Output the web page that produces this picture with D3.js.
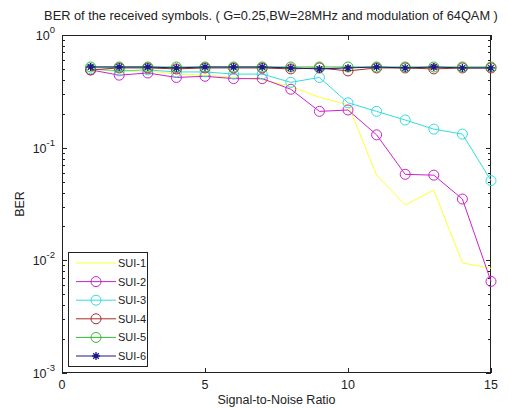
<!DOCTYPE html>
<html><head><meta charset="utf-8">
<script src="https://cdn.jsdelivr.net/npm/d3@7"></script>
<style>body{margin:0;background:#fff}svg{display:block}text{font-family:"Liberation Sans",Arial,sans-serif}</style>
</head><body><svg id="c" width="508" height="408"></svg>
<script>
const snr = [1,2,3,4,5,6,7,8,9,10,11,12,13,14,15];
const sui1 = [0.50,0.47,0.48,0.45,0.44,0.42,0.40,0.35,0.28,0.24,0.057,0.031,0.042,0.0095,0.0085];
const sui2 = [0.49,0.44,0.46,0.42,0.43,0.41,0.41,0.33,0.21,0.216,0.13,0.058,0.057,0.035,0.0065];
const sui3 = [0.50,0.48,0.49,0.47,0.47,0.45,0.45,0.38,0.42,0.25,0.21,0.176,0.146,0.132,0.051];
const sui4 = [0.49,0.51,0.51,0.50,0.51,0.51,0.51,0.50,0.51,0.48,0.51,0.51,0.50,0.51,0.51];
const sui5 = [0.52,0.52,0.52,0.52,0.52,0.52,0.52,0.52,0.52,0.52,0.52,0.52,0.52,0.52,0.52];
const sui6 = [0.52,0.52,0.52,0.51,0.52,0.52,0.52,0.51,0.50,0.51,0.52,0.51,0.52,0.51,0.51];
const seriesNames = ["SUI-1","SUI-2","SUI-3","SUI-4","SUI-5","SUI-6"];
const seriesColors = ["#ffff33","#cc22cc","#33dddd","#aa2a2a","#33bb33","#1a1a88"];
const seriesMarkers = ["none","circle","circle","circle","circle","star"];
const xTicks = [0,5,10,15];
const yTicks = [1e-3,1e-2,1e-1,1];
const yExp = ["-3","-2","-1","0"];
const title = "BER of the received symbols. ( G=0.25,BW=28MHz and modulation of 64QAM )";
const xLabel = "Signal-to-Noise Ratio";
const yLabel = "BER";

const allSeries = [sui1,sui2,sui3,sui4,sui5,sui6];
const L=62,R=491,T=35,B=373;
const svg = d3.select("#c");
const x = d3.scaleLinear().domain([0,15]).range([L,R]);
const y = d3.scaleLog().domain([1e-3,1]).range([B,T]);

svg.append("rect").attr("x",L).attr("y",T).attr("width",R-L).attr("height",B-T).attr("fill","#fff");

const minor = [];
for (let e=-3;e<0;e++) for (let m=2;m<=9;m++) minor.push(m*Math.pow(10,e));
const axCol="#222";
const g = svg.append("g");
[...yTicks.map(v=>({v,len:5})),...minor.map(v=>({v,len:3}))].forEach(t=>{
  const yy = Math.round(y(t.v))+0.5;
  g.append("line").attr("x1",L).attr("x2",L+t.len).attr("y1",yy).attr("y2",yy).attr("stroke",axCol);
  g.append("line").attr("x1",R).attr("x2",R-t.len).attr("y1",yy).attr("y2",yy).attr("stroke",axCol);
});
xTicks.forEach(v=>{
  const xx = Math.round(x(v))+0.5;
  g.append("line").attr("x1",xx).attr("x2",xx).attr("y1",B).attr("y2",B-5).attr("stroke",axCol);
  g.append("line").attr("x1",xx).attr("x2",xx).attr("y1",T).attr("y2",T+5).attr("stroke",axCol);
  g.append("text").attr("x",x(v)).attr("y",B+16).attr("text-anchor","middle").attr("font-size",12.5).attr("fill","#222").text(v);
});
yTicks.forEach((v,i)=>{
  const t = g.append("text").attr("x",L-7).attr("y",y(v)+5).attr("text-anchor","end").attr("font-size",12.5).attr("fill","#222");
  t.append("tspan").text("10");
  t.append("tspan").attr("dy",-7).attr("font-size",9.5).text(yExp[i]);
});
svg.append("rect").attr("x",L+0.5).attr("y",T+0.5).attr("width",R-L-1).attr("height",B-T-1).attr("fill","none").attr("stroke",axCol);

const line = d3.line().x((d,i)=>x(snr[i])).y(d=>y(d));
const starPath = r => `M${-r},0L${r},0M0,${-r}L0,${r}M${-r*0.7},${-r*0.7}L${r*0.7},${r*0.7}M${-r*0.7},${r*0.7}L${r*0.7},${-r*0.7}`;
function drawMarker(sel, type, col, cx, cy){
  if(type==="circle") sel.append("circle").attr("cx",cx).attr("cy",cy).attr("r",5).attr("fill","none").attr("stroke",col).attr("stroke-width",1);
  else if(type==="star") sel.append("path").attr("d",starPath(4)).attr("transform",`translate(${cx},${cy})`).attr("stroke",col).attr("stroke-width",1.3).attr("fill","none");
}
allSeries.forEach((s,k)=>{
  const gg = svg.append("g");
  gg.append("path").attr("d",line(s)).attr("fill","none").attr("stroke",seriesColors[k]).attr("stroke-width",1);
  s.forEach((v,i)=>drawMarker(gg,seriesMarkers[k],seriesColors[k],x(snr[i]),y(v)));
});

const lg = svg.append("g");
lg.append("rect").attr("x",68.5).attr("y",252.5).attr("width",79).attr("height",114).attr("fill","#fff").attr("stroke",axCol);
seriesNames.forEach((n,k)=>{
  const yy = 263 + k*18.6;
  lg.append("line").attr("x1",76).attr("x2",116).attr("y1",yy).attr("y2",yy).attr("stroke",seriesColors[k]);
  drawMarker(lg,seriesMarkers[k],seriesColors[k],96,yy);
  lg.append("text").attr("x",118).attr("y",yy+4).attr("font-size",11).attr("fill","#222").text(n);
});

svg.append("text").attr("x",271).attr("y",20).attr("text-anchor","middle").attr("font-size",12.8).attr("fill","#222").text(title);
svg.append("text").attr("x",x(7.5)).attr("y",404).attr("text-anchor","middle").attr("font-size",12.5).attr("fill","#222").text(xLabel);
svg.append("text").attr("transform",`translate(24,${(T+B)/2}) rotate(-90)`).attr("text-anchor","middle").attr("font-size",12.5).attr("fill","#222").text(yLabel);
</script></body></html>
